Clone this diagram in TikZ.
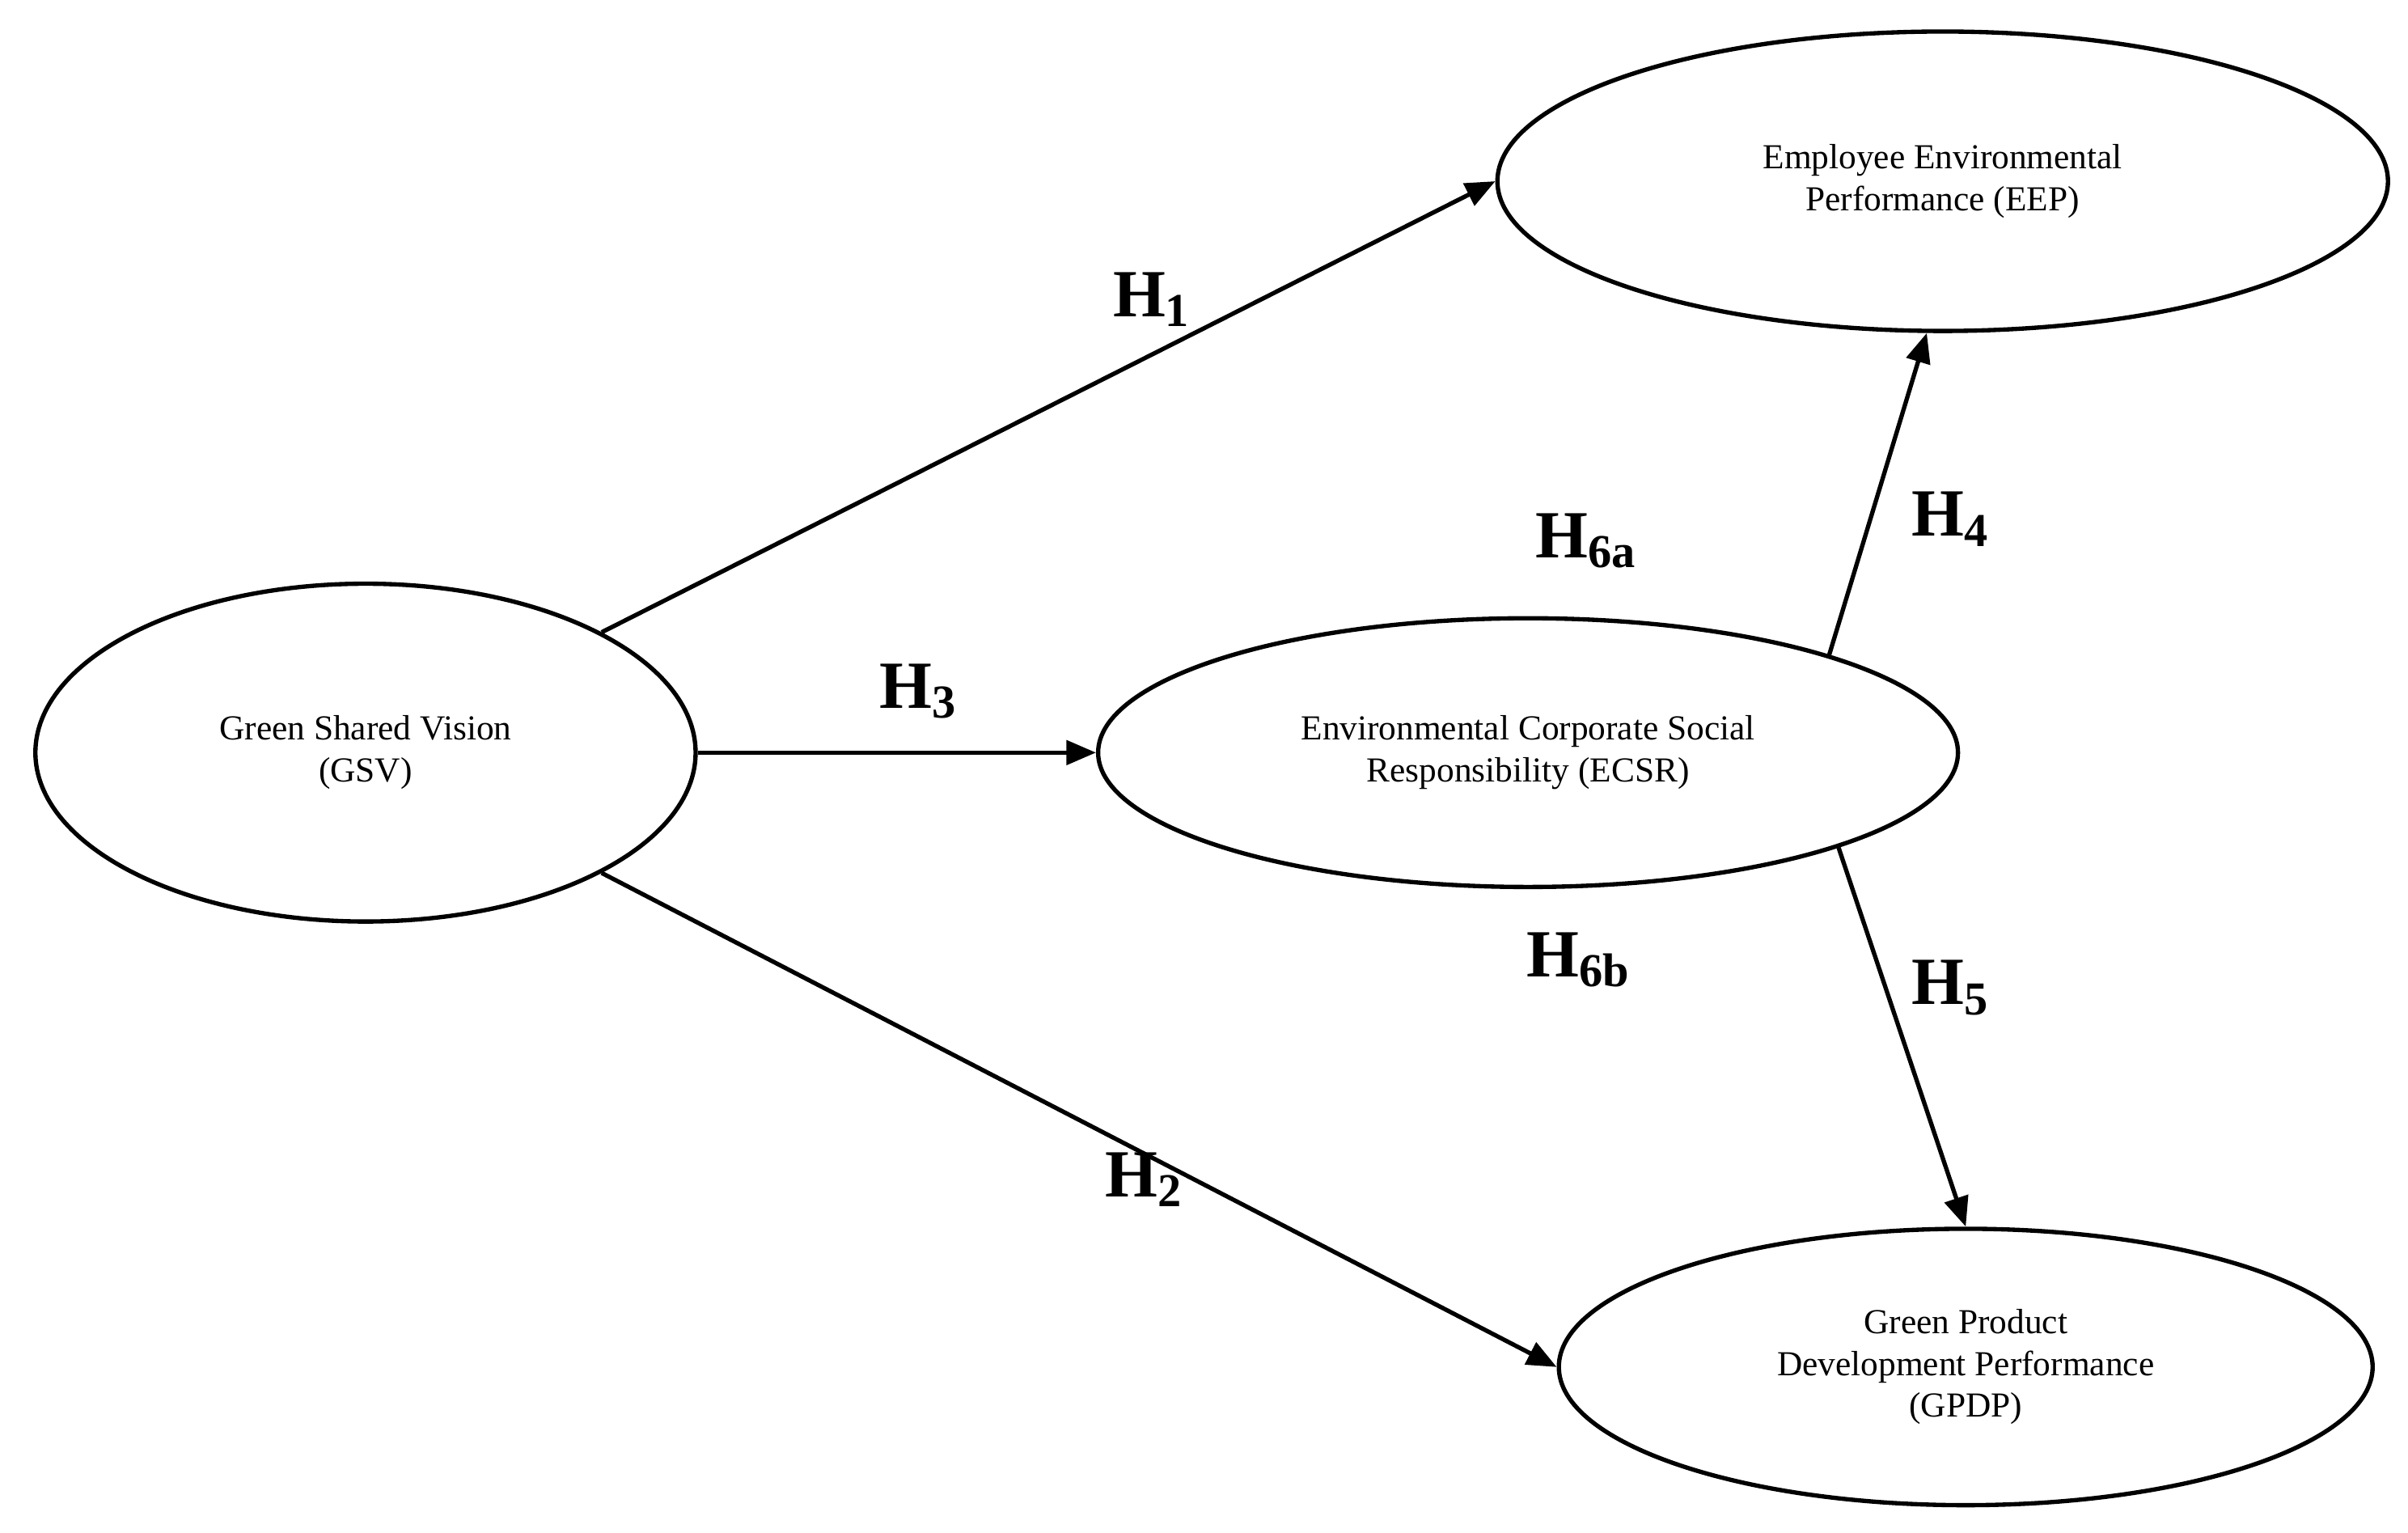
\documentclass[tikz,border=0pt]{standalone}
\usepackage{fontspec}
\setmainfont{Liberation Serif}
\usetikzlibrary{shapes.geometric,arrows.meta}
\begin{document}
\begin{tikzpicture}[x=0.02cm,y=-0.02cm,
  ell/.style={ellipse,draw,line width=1.6pt,align=center,font=\fontsize{13}{15.5}\selectfont,inner sep=0pt},
  arr/.style={line width=1.6pt,-{Triangle[length=11pt,width=9pt]}},
  hl/.style={font=\fontsize{25}{28}\selectfont\bfseries}]
\useasboundingbox (0,0) rectangle (1568,998);
\node[ell,minimum width=8.6cm,minimum height=4.4cm] (gsv) at (238,490) {Green Shared Vision\\(GSV)};
\node[ell,minimum width=11.2cm,minimum height=3.5cm] (ecsr) at (995,490) {Environmental Corporate Social\\Responsibility (ECSR)};
\node[ell,minimum width=11.6cm,minimum height=3.9cm] (eep) at (1265,118) {Employee Environmental\\Performance (EEP)};
\node[ell,minimum width=10.6cm,minimum height=3.6cm] (gpdp) at (1280,890) {Green Product\\Development Performance\\(GPDP)};
\draw[arr] (gsv.27) -- (eep.180);
\draw[arr] (gsv.0) -- (ecsr.180);
\draw[arr] (gsv.-27.6) -- (gpdp.180);
\draw[arr] (ecsr.18) -- (eep.264);
\draw[arr] (ecsr.-17) -- (gpdp.90);
\node[hl] (h1) at (750,195) {H\textsubscript{1}};
\node[hl] (h3) at (598,450) {H\textsubscript{3}};
\node[hl] (h2) at (745,768) {H\textsubscript{2}};
\node[hl] (h6a) at (1033,352) {H\textsubscript{6a}};
\node[hl] (h4) at (1270,338) {H\textsubscript{4}};
\node[hl] (h6b) at (1028,625) {H\textsubscript{6b}};
\node[hl] (h5) at (1270,643) {H\textsubscript{5}};
\end{tikzpicture}
\end{document}
